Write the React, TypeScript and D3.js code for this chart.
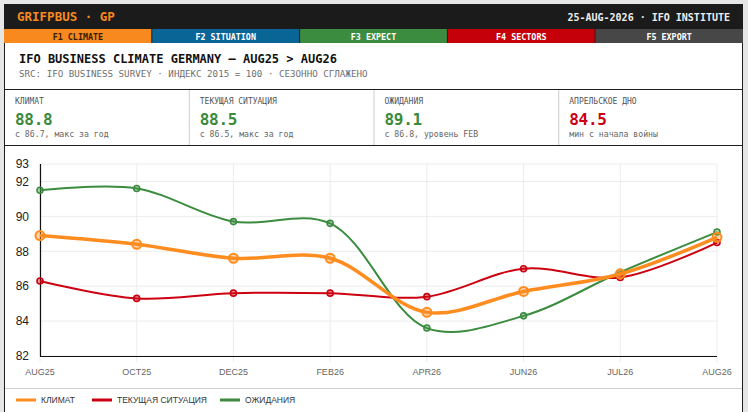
import React from 'react';
import * as d3 from 'd3';

const categories = ['AUG25', 'OCT25', 'DEC25', 'FEB26', 'APR26', 'JUN26', 'JUL26', 'AUG26'];
const climate = [88.9, 88.4, 87.6, 87.6, 84.5, 85.7, 86.7, 88.8];
const situation = [86.3, 85.3, 85.6, 85.6, 85.4, 87.0, 86.5, 88.5];
const expectations = [91.5, 91.6, 89.7, 89.6, 83.6, 84.3, 86.8, 89.1];
const yTicks = [82, 84, 86, 88, 90, 92, 93];

const tabs = ['F1 CLIMATE', 'F2 SITUATION', 'F3 EXPECT', 'F4 SECTORS', 'F5 EXPORT'];
const tabColors = ['#f7891f', '#0a6597', '#3b8c3f', '#c6000b', '#474747'];
const tabText = ['#3a1c00', '#ffffff', '#ffffff', '#ffffff', '#ffffff'];

const kpiLabels = ['КЛИМАТ', 'ТЕКУЩАЯ СИТУАЦИЯ', 'ОЖИДАНИЯ', 'АПРЕЛЬСКОЕ ДНО'];
const kpiValues = ['88.8', '88.5', '89.1', '84.5'];
const kpiNotes = ['с 86.7, макс за год', 'с 86.5, макс за год', 'с 86.8, уровень FEB', 'мин с начала войны'];
const kpiColors = ['#3a8a3a', '#3a8a3a', '#3a8a3a', '#cc0011'];

const seriesNames = ['КЛИМАТ', 'ТЕКУЩАЯ СИТУАЦИЯ', 'ОЖИДАНИЯ'];
const seriesColors = ['#ff8c1f', '#cc0011', '#3b8c3f'];

const MONO = '"DejaVu Sans Mono", monospace';
const SANS = '"Liberation Sans", Arial, sans-serif';

export default function App() {
  const W = 748;
  const H = 412;
  const cardX = 4;
  const cardW = 739;
  const x = d3.scalePoint<string>().domain(categories).range([40, 717]);
  const y = d3.scaleLinear().domain([82, 93]).range([356, 164]);
  const line = d3
    .line<number>()
    .x((_, i) => x(categories[i]) as number)
    .y((d) => y(d))
    .curve(d3.curveCatmullRom.alpha(0.5));

  const series = [
    { data: expectations, color: seriesColors[2], width: 2, r: 3, sw: 1.6 },
    { data: situation, color: seriesColors[1], width: 2, r: 3, sw: 1.6 },
    { data: climate, color: seriesColors[0], width: 3.5, r: 4.5, sw: 2 },
  ];

  const tabW = cardW / tabs.length;
  const kpiW = cardW / 4;

  const legendItems = [
    { x: 16, w: 20 },
    { x: 92, w: 20 },
    { x: 220, w: 20 },
  ];

  return (
    <div style={{ width: W, height: H, overflow: 'hidden' }}>
      <style>{`body{margin:0;background:#e6e6e6;}`}</style>
      <svg width={W} height={H} style={{ display: 'block', background: '#e6e6e6' }}>
        {/* card */}
        <rect x={cardX + 0.5} y={4.5} width={cardW - 1} height={H} fill="#ffffff" stroke="#1e1e1e" strokeWidth={1} />
        {/* header */}
        <rect x={cardX} y={4} width={cardW} height={25} fill="#1b1b1b" />
        <text x={17} y={21} fill="#f7891f" fontFamily={MONO} fontWeight="bold" fontSize={12.5}>
          GRIFPBUS · GP
        </text>
        <text x={730} y={20.5} fill="#eeeeee" fontFamily={MONO} fontWeight="bold" fontSize={10} textAnchor="end">
          25-AUG-2026 · IFO INSTITUTE
        </text>
        {/* tabs */}
        {tabs.map((t, i) => (
          <g key={t}>
            <rect x={cardX + i * tabW} y={29} width={tabW} height={14} fill={tabColors[i]} />
            {i > 0 && <line x1={cardX + i * tabW} x2={cardX + i * tabW} y1={29} y2={43} stroke="#1b1b1b" strokeWidth={1} />}
            <text
              x={cardX + i * tabW + tabW / 2}
              y={39.5}
              fill={tabText[i]}
              fontFamily={MONO}
              fontWeight="bold"
              fontSize={8.4}
              textAnchor="middle"
            >
              {t}
            </text>
          </g>
        ))}
        {/* title */}
        <text x={19} y={63} fill="#111111" fontFamily={MONO} fontWeight="bold" fontSize={12}>
          IFO BUSINESS CLIMATE GERMANY — AUG25 {'>'} AUG26
        </text>
        <text x={19} y={77} fill="#707070" fontFamily={MONO} fontSize={9.2}>
          SRC: IFO BUSINESS SURVEY · ИНДЕКС 2015 = 100 · СЕЗОННО СГЛАЖЕНО
        </text>
        <line x1={cardX} x2={cardX + cardW} y1={89.5} y2={89.5} stroke="#1e1e1e" strokeWidth={1} />
        {/* KPIs */}
        {kpiLabels.map((l, i) => (
          <g key={l}>
            {i > 0 && (
              <line x1={cardX + i * kpiW + 0.5} x2={cardX + i * kpiW + 0.5} y1={90} y2={145} stroke="#cccccc" strokeWidth={1} />
            )}
            <text x={cardX + i * kpiW + 11} y={104} fill="#555555" fontFamily={MONO} fontSize={8}>
              {l}
            </text>
            <text x={cardX + i * kpiW + 11} y={124.5} fill={kpiColors[i]} fontFamily={MONO} fontWeight="bold" fontSize={16} letterSpacing={-0.3}>
              {kpiValues[i]}
            </text>
            <text x={cardX + i * kpiW + 11} y={137} fill="#666666" fontFamily={MONO} fontSize={8.2}>
              {kpiNotes[i]}
            </text>
          </g>
        ))}
        <line x1={cardX} x2={cardX + cardW} y1={145.5} y2={145.5} stroke="#1e1e1e" strokeWidth={1} />
        {/* grid */}
        {yTicks.map((t) => (
          <line key={'gy' + t} x1={40} x2={717} y1={y(t)} y2={y(t)} stroke="#ececec" strokeWidth={1} />
        ))}
        {categories.map((c) => (
          <line key={'gx' + c} x1={x(c)} x2={x(c)} y1={164} y2={362} stroke="#ececec" strokeWidth={1} />
        ))}
        {/* axes */}
        <line x1={40.5} x2={40.5} y1={164} y2={356.5} stroke="#111111" strokeWidth={1.2} />
        <line x1={40} x2={717} y1={356.5} y2={356.5} stroke="#111111" strokeWidth={1.2} />
        {yTicks.map((t) => (
          <text key={'ty' + t} x={29} y={y(t) + 4.3} fill="#222222" fontFamily={SANS} fontSize={12} textAnchor="end">
            {t}
          </text>
        ))}
        {categories.map((c) => (
          <text key={'tx' + c} x={x(c)} y={375} fill="#666666" fontFamily={SANS} fontSize={9} textAnchor="middle">
            {c}
          </text>
        ))}
        {/* lines */}
        {series.map((s, si) => (
          <g key={'s' + si}>
            <path d={line(s.data) || ''} fill="none" stroke={s.color} strokeWidth={s.width} strokeLinejoin="round" />
            {s.data.map((v, i) => (
              <circle
                key={i}
                cx={x(categories[i])}
                cy={y(v)}
                r={s.r}
                fill={s.color}
                fillOpacity={0.35}
                stroke={s.color}
                strokeWidth={s.sw}
              />
            ))}
          </g>
        ))}
        {/* legend */}
        <line x1={cardX + 1} x2={cardX + cardW - 1} y1={388.5} y2={388.5} stroke="#d0d0d0" strokeWidth={1} />
        {seriesNames.map((n, i) => (
          <g key={n}>
            <rect x={legendItems[i].x} y={398.5} width={legendItems[i].w} height={3} fill={seriesColors[i]} />
            <text x={legendItems[i].x + 25} y={403} fill="#333333" fontFamily={SANS} fontSize={8.5}>
              {n}
            </text>
          </g>
        ))}
      </svg>
    </div>
  );
}
